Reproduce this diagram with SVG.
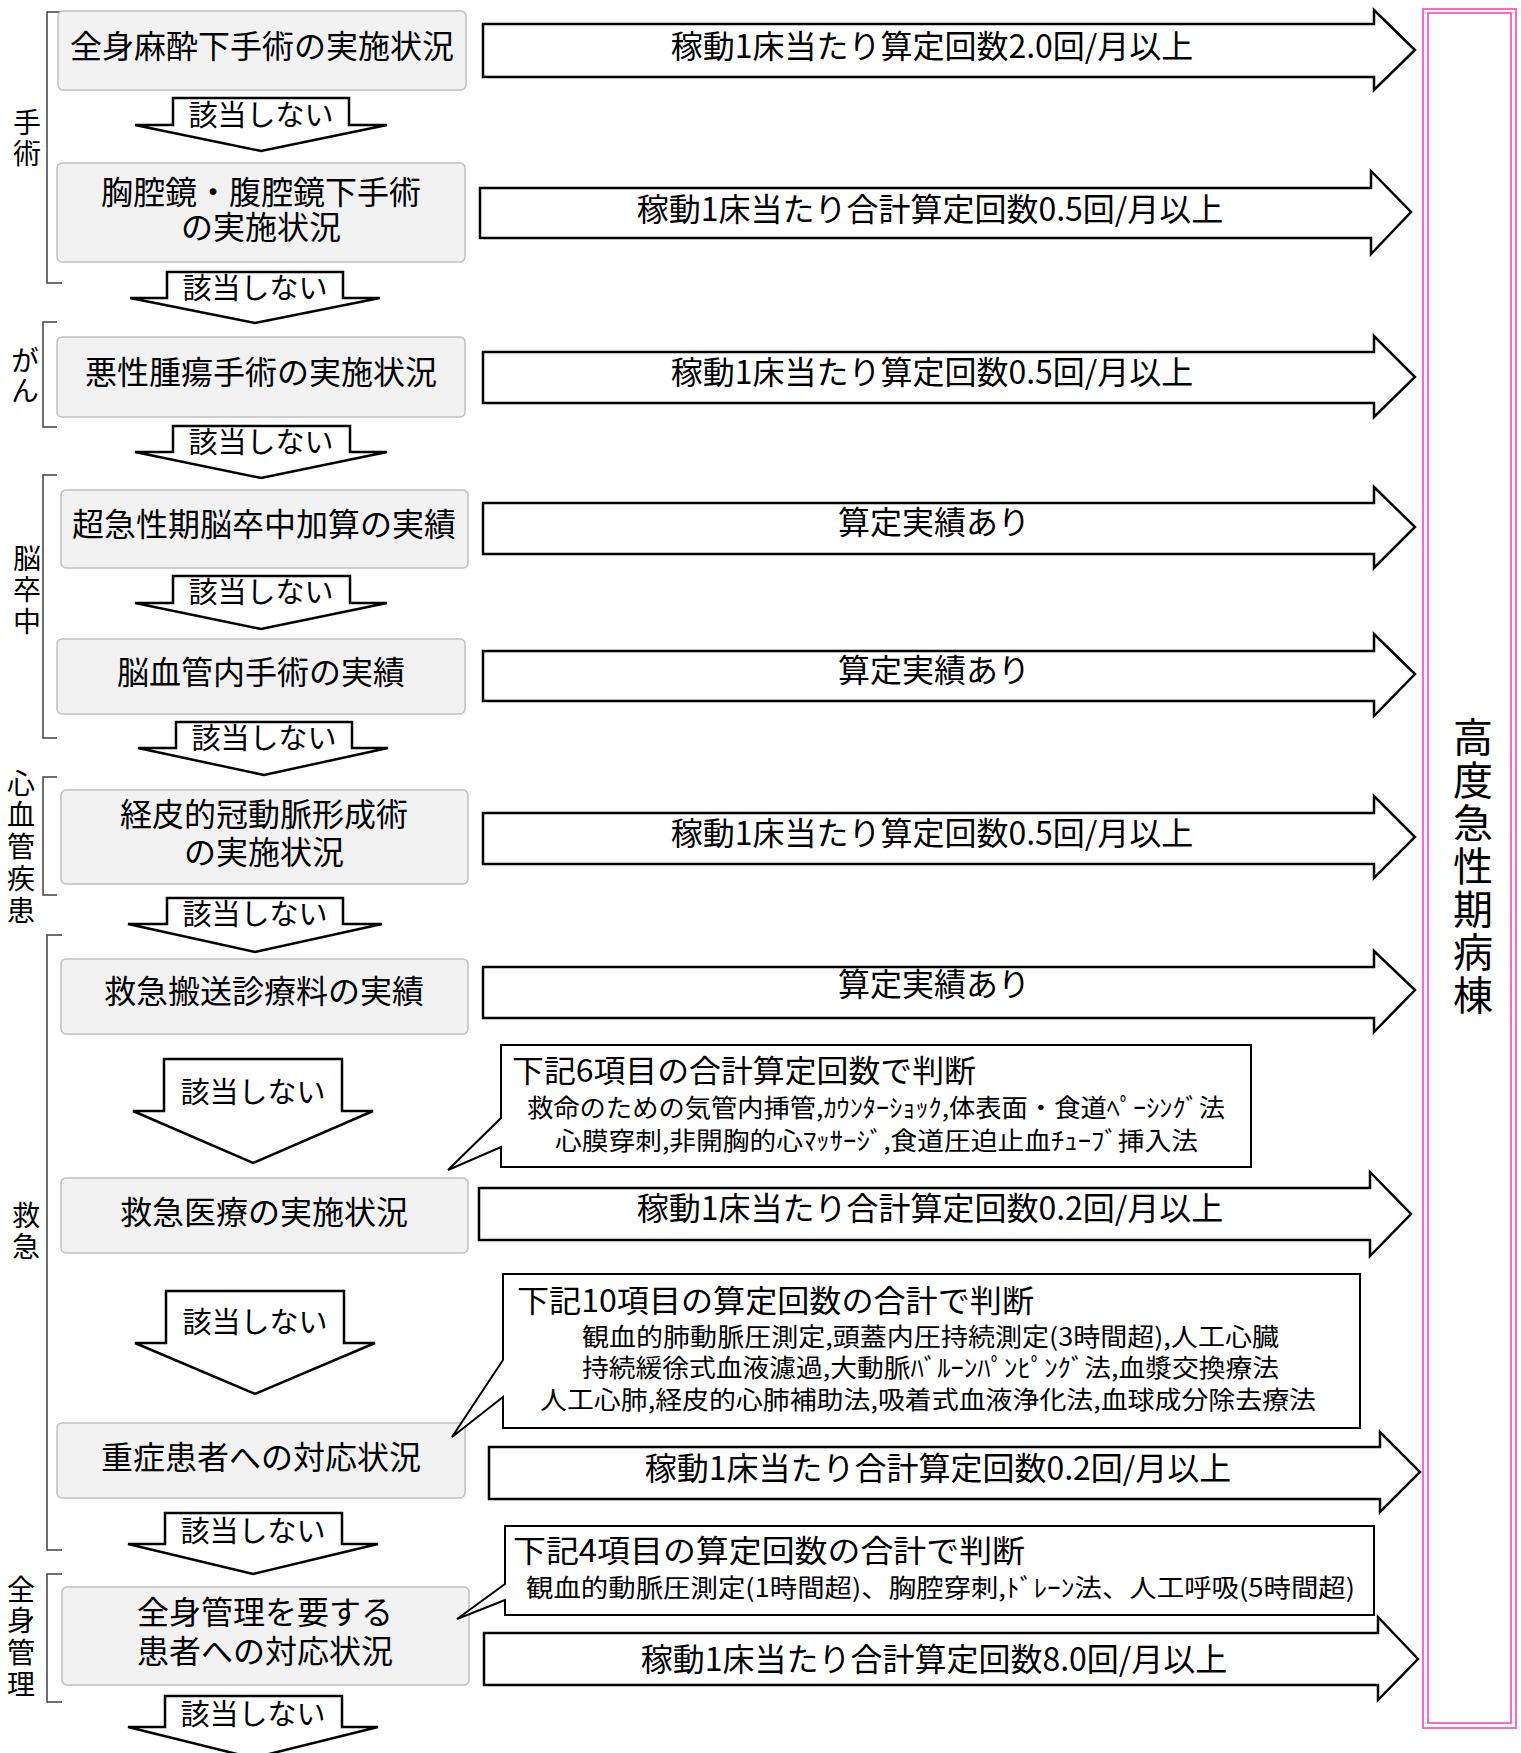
<svg xmlns="http://www.w3.org/2000/svg" width="1521" height="1753" viewBox="0 0 1521 1753">
<style>
text{font-family:"Noto Sans CJK JP","Noto Sans",sans-serif;fill:#000;dominant-baseline:central}
.nb{fill:#f2f2f2;stroke:#c0c0c0;stroke-width:1.5}
.nt{font-size:32px;text-anchor:middle}
.da{fill:#fff;stroke:#000;stroke-width:2.5;stroke-linejoin:miter}
.dt{font-size:29px;text-anchor:middle}
.ra{fill:#fff;stroke:#000;stroke-width:2.5;stroke-linejoin:miter}
.rt{font-size:32px;text-anchor:middle}
.co{fill:#fff;stroke:#000;stroke-width:2}
.ch{font-size:31px}
.cd{font-size:25px}
.br{fill:none;stroke:#404040;stroke-width:1.5}
.bl{font-size:28px;writing-mode:vertical-rl;text-anchor:start}
.pk{fill:none;stroke:#ff66cc;stroke-width:2}
</style>

<!-- category brackets -->
<g id="brackets">
<path class="br" d="M62,12 H47 V283 H62"/>
<text class="bl" x="27" y="108" letter-spacing="3">手術</text>
<path class="br" d="M57,322 H43 V427 H57"/>
<text class="bl" x="25" y="346" letter-spacing="2">がん</text>
<path class="br" d="M57,475 H43 V738 H57"/>
<text class="bl" x="27" y="544" letter-spacing="3.5">脳卒中</text>
<path class="br" d="M57,777 H43 V895 H57"/>
<text class="bl" x="21" y="769" letter-spacing="3.75">心血管疾患</text>
<path class="br" d="M62,935 H47 V1550 H62"/>
<text class="bl" x="26" y="1201" letter-spacing="3">救急</text>
<path class="br" d="M62,1574 H47 V1702 H62"/>
<text class="bl" x="21" y="1575" letter-spacing="3.7">全身管理</text>
</g>

<!-- nodes -->
<g id="n1"><rect class="nb" x="58" y="11" width="408" height="79" rx="5"/><text class="nt" x="262" y="44">全身麻酔下手術の実施状況</text></g>
<g id="n2"><rect class="nb" x="57" y="163" width="408" height="99" rx="5"/><text class="nt"><tspan x="261" y="190">胸腔鏡・腹腔鏡下手術</tspan><tspan x="261" y="225">の実施状況</tspan></text></g>
<g id="n3"><rect class="nb" x="57" y="337" width="408" height="80" rx="5"/><text class="nt" x="261" y="370">悪性腫瘍手術の実施状況</text></g>
<g id="n4"><rect class="nb" x="61" y="490" width="407" height="78" rx="5"/><text class="nt" x="264" y="522">超急性期脳卒中加算の実績</text></g>
<g id="n5"><rect class="nb" x="57" y="639" width="408" height="75" rx="5"/><text class="nt" x="261" y="670">脳血管内手術の実績</text></g>
<g id="n6"><rect class="nb" x="61" y="790" width="407" height="94" rx="5"/><text class="nt"><tspan x="264" y="812">経皮的冠動脈形成術</tspan><tspan x="264" y="850">の実施状況</tspan></text></g>
<g id="n7"><rect class="nb" x="61" y="959" width="407" height="75" rx="5"/><text class="nt" x="264" y="989">救急搬送診療料の実績</text></g>
<g id="n8"><rect class="nb" x="61" y="1178" width="407" height="75" rx="5"/><text class="nt" x="264" y="1210">救急医療の実施状況</text></g>
<g id="n9"><rect class="nb" x="57" y="1423" width="408" height="75" rx="5"/><text class="nt" x="261" y="1455">重症患者への対応状況</text></g>
<g id="n10"><rect class="nb" x="62" y="1587" width="407" height="98" rx="5"/><text class="nt"><tspan x="265" y="1610">全身管理を要する</tspan><tspan x="265" y="1649">患者への対応状況</tspan></text></g>

<!-- target -->
<g id="target">
<rect class="pk" x="1423" y="9" width="93" height="1719"/>
<rect class="pk" x="1428" y="13" width="83" height="1710" stroke-width="1.5"/>
<text x="1473" y="717" letter-spacing="3" style="font-size:40px;writing-mode:vertical-rl;text-anchor:start">高度急性期病棟</text>
</g>

<!-- connectors -->
<g id="connectors">
<!-- down arrows -->
<polygon class="da" points="173,98 349,98 349,125 387,125 261,151 135,125 173,125"/>
<text class="dt" x="261" y="113">該当しない</text>
<polygon class="da" points="167,272 343,272 343,298 380,298 255,323 130,298 167,298"/>
<text class="dt" x="255" y="286">該当しない</text>
<polygon class="da" points="173,426 350,426 350,452 387,452 261,478 135,452 173,452"/>
<text class="dt" x="261" y="440">該当しない</text>
<polygon class="da" points="173,576 350,576 350,603 387,603 261,629 135,603 173,603"/>
<text class="dt" x="261" y="590">該当しない</text>
<polygon class="da" points="176,722 352,722 352,748 388,748 264,775 138,748 176,748"/>
<text class="dt" x="264" y="736">該当しない</text>
<polygon class="da" points="167,898 343,898 343,924 382,924 255,952 128,924 167,924"/>
<text class="dt" x="255" y="912">該当しない</text>
<polygon class="da" points="164,1059 342,1059 342,1111 373,1111 253,1163 133,1111 164,1111"/>
<text class="dt" x="253" y="1090">該当しない</text>
<polygon class="da" points="166,1291 344,1291 344,1343 375,1343 255,1394 135,1343 166,1343"/>
<text class="dt" x="255" y="1320">該当しない</text>
<polygon class="da" points="165,1513 342,1513 342,1544 378,1544 253,1574 128,1544 165,1544"/>
<text class="dt" x="253" y="1529">該当しない</text>
<polygon class="da" points="165,1696 342,1696 342,1727 378,1727 253,1758 128,1727 165,1727"/>
<text class="dt" x="253" y="1712">該当しない</text>

<!-- right arrows -->
<polygon class="ra" points="483,24 1374,24 1374,10 1415,50 1374,90 1374,77 483,77"/>
<text class="rt" x="932" y="44">稼動1床当たり算定回数2.0回/月以上</text>
<polygon class="ra" points="480,188 1371,188 1371,171 1411,212 1371,254 1371,238 480,238"/>
<text class="rt" x="930" y="207">稼動1床当たり合計算定回数0.5回/月以上</text>
<polygon class="ra" points="483,352 1374,352 1374,336 1415,377 1374,417 1374,403 483,403"/>
<text class="rt" x="932" y="370">稼動1床当たり算定回数0.5回/月以上</text>
<polygon class="ra" points="483,503 1374,503 1374,487 1415,527 1374,568 1374,554 483,554"/>
<text class="rt" x="934" y="520">算定実績あり</text>
<polygon class="ra" points="483,651 1374,651 1374,634 1415,674 1374,716 1374,701 483,701"/>
<text class="rt" x="934" y="668">算定実績あり</text>
<polygon class="ra" points="483,813 1374,813 1374,796 1415,837 1374,878 1374,864 483,864"/>
<text class="rt" x="932" y="831">稼動1床当たり算定回数0.5回/月以上</text>
<polygon class="ra" points="483,967 1374,967 1374,951 1415,990 1374,1032 1374,1018 483,1018"/>
<text class="rt" x="934" y="982">算定実績あり</text>
<polygon class="ra" points="479,1188 1370,1188 1370,1172 1411,1214 1370,1256 1370,1240 479,1240"/>
<text class="rt" x="930" y="1206">稼動1床当たり合計算定回数0.2回/月以上</text>
<polygon class="ra" points="489,1447 1380,1447 1380,1432 1420,1472 1380,1512 1380,1499 489,1499"/>
<text class="rt" x="938" y="1466">稼動1床当たり合計算定回数0.2回/月以上</text>
<polygon class="ra" points="484,1633 1378,1633 1378,1617 1418,1659 1378,1700 1378,1685 484,1685"/>
<text class="rt" x="934" y="1657">稼動1床当たり合計算定回数8.0回/月以上</text>

<!-- callouts -->
<polygon class="co" points="501,1045 1251,1045 1251,1167 501,1167 501,1147 448,1170 501,1118"/>
<text class="ch" x="512" y="1068" textLength="464" lengthAdjust="spacingAndGlyphs">下記6項目の合計算定回数で判断</text>
<text class="cd" x="527" y="1106" textLength="698" lengthAdjust="spacingAndGlyphs">救命のための気管内挿管,ｶｳﾝﾀｰｼｮｯｸ,体表面・食道ﾍﾟｰｼﾝｸﾞ法</text>
<text class="cd" x="555" y="1139" textLength="643" lengthAdjust="spacingAndGlyphs">心膜穿刺,非開胸的心ﾏｯｻｰｼﾞ,食道圧迫止血ﾁｭｰﾌﾞ挿入法</text>

<polygon class="co" points="503,1274 1360,1274 1360,1428 503,1428 503,1397 452,1437 503,1360"/>
<text class="ch" x="517" y="1298" textLength="517" lengthAdjust="spacingAndGlyphs">下記10項目の算定回数の合計で判断</text>
<text class="cd" x="582" y="1335" textLength="697" lengthAdjust="spacingAndGlyphs">観血的肺動脈圧測定,頭蓋内圧持続測定(3時間超),人工心臓</text>
<text class="cd" x="582" y="1366" textLength="697" lengthAdjust="spacingAndGlyphs">持続緩徐式血液濾過,大動脈ﾊﾞﾙｰﾝﾊﾟﾝﾋﾟﾝｸﾞ法,血漿交換療法</text>
<text class="cd" x="540" y="1398" textLength="776" lengthAdjust="spacingAndGlyphs">人工心肺,経皮的心肺補助法,吸着式血液浄化法,血球成分除去療法</text>

<polygon class="co" points="505,1526 1374,1526 1374,1615 505,1615 505,1600 457,1619 505,1584"/>
<text class="ch" x="513" y="1548" textLength="512" lengthAdjust="spacingAndGlyphs">下記4項目の算定回数の合計で判断</text>
<text class="cd" x="526" y="1586" textLength="829" lengthAdjust="spacingAndGlyphs">観血的動脈圧測定(1時間超)、胸腔穿刺,ﾄﾞﾚｰﾝ法、人工呼吸(5時間超)</text>
</g>
</svg>
